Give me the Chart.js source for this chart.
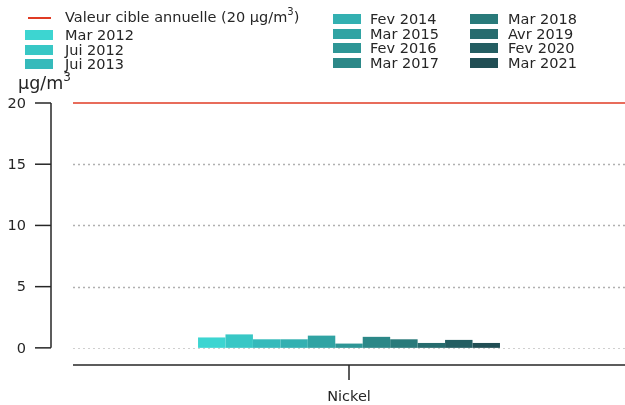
<!DOCTYPE html>
<html><head><meta charset="utf-8">
<script src="https://cdn.jsdelivr.net/npm/chart.js@4.4.0/dist/chart.umd.min.js"></script>
<style>
html,body{margin:0;padding:0;background:#fff;}
#wrap{position:relative;width:625px;height:405px;font-family:"DejaVu Sans",sans-serif;color:#262626;}
canvas{position:absolute;left:0;top:0;}
.lg{position:absolute;font-size:14.5px;line-height:15px;white-space:nowrap;}
.sw{position:absolute;width:28px;height:10px;}
.ln{position:absolute;width:23px;height:2px;background:#e03b24;}
#unit{position:absolute;left:18px;top:73px;font-size:17.5px;line-height:20px;}
</style></head>
<body><div id="wrap"><canvas id="c" width="625" height="405"></canvas><div id="legend"></div><div id="unit">µg/m<sup style="font-size:12px;vertical-align:8px;line-height:0">3</sup></div></div>
<script>
const categories = ["Nickel"];
const campaigns = ["Mar 2012","Jui 2012","Jui 2013","Fev 2014","Mar 2015","Fev 2016","Mar 2017","Mar 2018","Avr 2019","Fev 2020","Mar 2021"];
const nickelValues = [0.85,1.1,0.7,0.7,1.0,0.35,0.9,0.7,0.4,0.65,0.4];
const colors = ["#3dd5d1","#38c7c5","#35babb","#33b0b1","#30a3a3","#2e9696","#2c8888","#297a7a","#276c6e","#245e62","#214e54"];
const targetValue = 20;
const targetLabel = "Valeur cible annuelle (20 µg/m<sup>3</sup>)";
const yTicks = [0,5,10,15,20];

// legend (HTML)
const lg = document.getElementById('legend');
function addText(x,y,html){const d=document.createElement('div');d.className='lg';d.style.left=x+'px';d.style.top=y+'px';d.innerHTML=html;lg.appendChild(d);}
{const l=document.createElement('div');l.className='ln';l.style.left='28px';l.style.top='17px';lg.appendChild(l);
 addText(65,10,targetLabel.replace('<sup>','<sup style="font-size:10px;vertical-align:7px;line-height:0">'));}
const cols=[{x:25,tx:65,y0:30,items:[0,1,2]},{x:333,tx:370,y0:14,items:[3,4,5,6]},{x:470,tx:508,y0:14,items:[7,8,9,10]}];
cols.forEach(c=>c.items.forEach((i,k)=>{const s=document.createElement('div');s.className='sw';s.style.background=colors[i];s.style.left=c.x+'px';s.style.top=(c.y0+k*14.7)+'px';lg.appendChild(s);addText(c.tx,c.y0+k*14.7-2,campaigns[i]);}));

const axesPlugin={id:'axes',
 beforeDatasetsDraw(chart){const {ctx,chartArea:a,scales:{y}}=chart;ctx.save();
  yTicks.forEach(v=>{if(v===targetValue)return;const py=Math.round(y.getPixelForValue(v))+0.5;
   ctx.strokeStyle=v===0?'#d0d0d0':'#b0b0b0';ctx.lineWidth=v===0?1:1.5;ctx.setLineDash([2,3]);
   ctx.beginPath();ctx.moveTo(a.left,py);ctx.lineTo(a.right,py);ctx.stroke();});
  ctx.restore();},
 afterDatasetsDraw(chart){const {ctx,chartArea:a,scales:{x,y}}=chart;ctx.save();
  const ty=y.getPixelForValue(targetValue);ctx.strokeStyle='#e03b24';ctx.lineWidth=1.5;ctx.beginPath();ctx.moveTo(a.left,ty);ctx.lineTo(a.right,ty);ctx.stroke();
  ctx.strokeStyle='#262626';ctx.lineWidth=1.5;const sx=51;
  ctx.beginPath();ctx.moveTo(sx,y.getPixelForValue(0));ctx.lineTo(sx,y.getPixelForValue(20));ctx.stroke();
  ctx.fillStyle='#262626';ctx.font='14.5px "DejaVu Sans"';ctx.textAlign='right';ctx.textBaseline='middle';
  yTicks.forEach(v=>{const py=y.getPixelForValue(v);ctx.beginPath();ctx.moveTo(35,py);ctx.lineTo(sx,py);ctx.stroke();ctx.fillText(String(v),26,py+1);});
  ctx.beginPath();ctx.moveTo(a.left,a.bottom);ctx.lineTo(a.right,a.bottom);ctx.stroke();
  ctx.textAlign='center';ctx.textBaseline='middle';
  categories.forEach((c,i)=>{const px=x.getPixelForValue(i);ctx.beginPath();ctx.moveTo(px,a.bottom);ctx.lineTo(px,a.bottom+15);ctx.stroke();ctx.fillText(c,px,397);});
  ctx.restore();}};

new Chart(document.getElementById('c'),{type:'bar',
 data:{labels:categories,datasets:campaigns.map((n,i)=>({label:n,data:[nickelValues[i]],backgroundColor:colors[i],borderWidth:0,categoryPercentage:0.547,barPercentage:1.0}))},
 options:{responsive:false,animation:false,devicePixelRatio:1,
  layout:{padding:{left:73,right:0,top:103,bottom:40}},
  plugins:{legend:{display:false},tooltip:{enabled:false}},
  scales:{x:{display:false},y:{display:false,min:-1.4,max:20}}},
 plugins:[axesPlugin]});
</script></body></html>
